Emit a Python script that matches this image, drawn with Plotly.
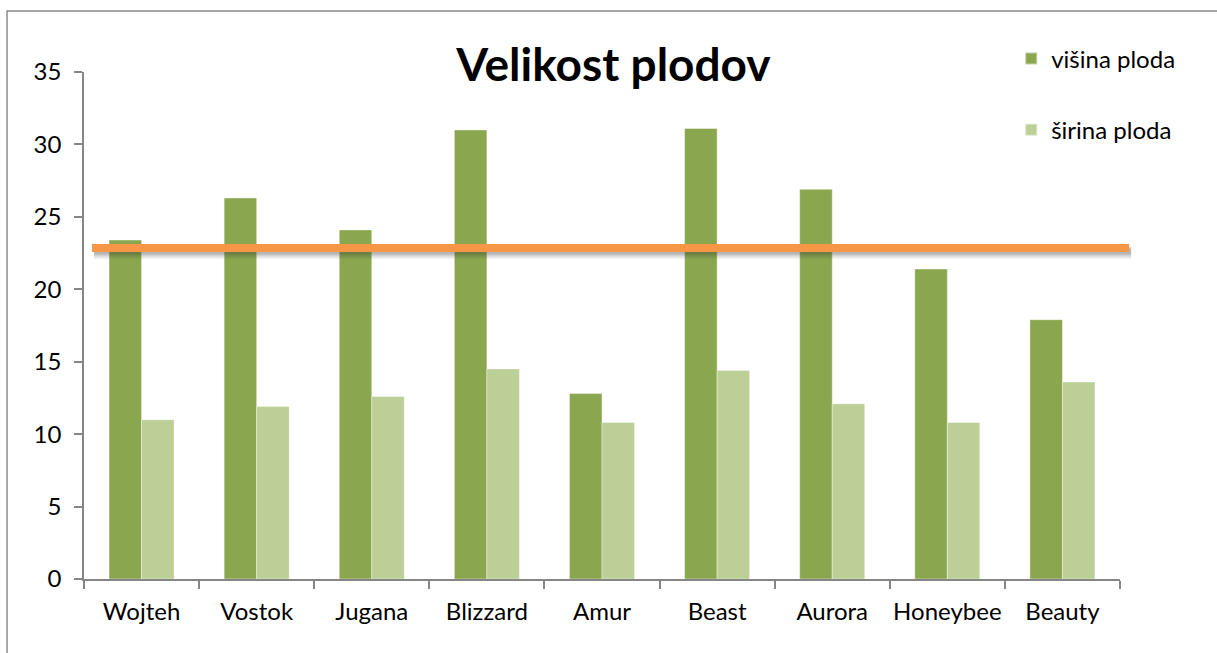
import plotly.graph_objects as go

# Fruit size per cultivar
sorte = ["Wojteh", "Vostok", "Jugana", "Blizzard", "Amur", "Beast", "Aurora", "Honeybee", "Beauty"]
visina = [23.4, 26.3, 24.1, 31.0, 12.8, 31.1, 26.9, 21.4, 17.9]
sirina = [11.0, 11.9, 12.6, 14.5, 10.8, 14.4, 12.1, 10.8, 13.6]
referenca = 22.85
y_ticks = [0, 5, 10, 15, 20, 25, 30, 35]

FONT = "Lato, Carlito, Calibri, sans-serif"
AXIS_GREY = "#868686"

fig = go.Figure()
fig.add_trace(go.Bar(
    x=sorte, y=visina, name="višina ploda", legendgroup="a",
    marker=dict(color="#8AA64F", line=dict(color="rgba(255,255,255,0.5)", width=0.8)),
))
fig.add_trace(go.Bar(
    x=sorte, y=sirina, name="širina ploda", legendgroup="b",
    marker=dict(color="#BBCF97", line=dict(color="rgba(255,255,255,0.5)", width=0.8)),
))

shapes = []
# soft shadow under the reference line
for off, w, op in [(0.32, 12, 0.10), (0.28, 9, 0.14), (0.24, 6, 0.18)]:
    shapes.append(dict(type="line", xref="paper", yref="y",
                       x0=0.0077 + 0.002, x1=1.0087 + 0.002,
                       y0=referenca - off, y1=referenca - off,
                       line=dict(color=f"rgba(60,60,60,{op})", width=w), layer="above"))
shapes.append(dict(type="line", xref="paper", yref="y",
                   x0=0.0077, x1=1.0087, y0=referenca, y1=referenca,
                   line=dict(color="#F79646", width=8), layer="above"))
# outer chart frame
shapes.append(dict(type="rect", xref="paper", yref="paper",
                   x0=-0.0743, x1=1.3, y0=-0.3, y1=1.1203,
                   line=dict(color="#8C8C8C", width=1.5), fillcolor="rgba(0,0,0,0)",
                   layer="below"))

fig.update_layout(
    width=1217, height=653,
    margin=dict(l=84, r=97, t=72, b=74),
    paper_bgcolor="white", plot_bgcolor="white",
    barmode="group", bargap=0.435, bargroupgap=0,
    font=dict(family=FONT, size=24, color="#000000"),
    title=dict(text="<b>Velikost plodov</b>", font=dict(family=FONT, size=46, color="#000000"),
               x=0.511, xanchor="center", xref="paper", y=0.9, yanchor="middle", yref="container"),
    showlegend=True,
    legend=dict(x=0.895, xanchor="left", y=1.07, yanchor="top",
                bgcolor="rgba(0,0,0,0)", font=dict(family=FONT, size=24),
                traceorder="grouped", tracegroupgap=37, itemsizing="constant"),
    shapes=shapes,
    xaxis=dict(showline=True, linecolor=AXIS_GREY, linewidth=1.5,
               ticks="outside", tickson="boundaries", ticklen=8, tickcolor=AXIS_GREY,
               tickwidth=1.5, showgrid=False, ticklabelstandoff=10, tickangle=0,
               automargin=False, tickfont=dict(family=FONT, size=24)),
    yaxis=dict(range=[0, 35], tickvals=y_ticks, showline=True, linecolor=AXIS_GREY,
               linewidth=1.5, ticks="outside", ticklen=8, tickcolor=AXIS_GREY, tickwidth=1.5,
               showgrid=False, zeroline=False, ticklabelstandoff=8, automargin=False,
               tickfont=dict(family=FONT, size=24)),
)

fig.write_html("out.html")
